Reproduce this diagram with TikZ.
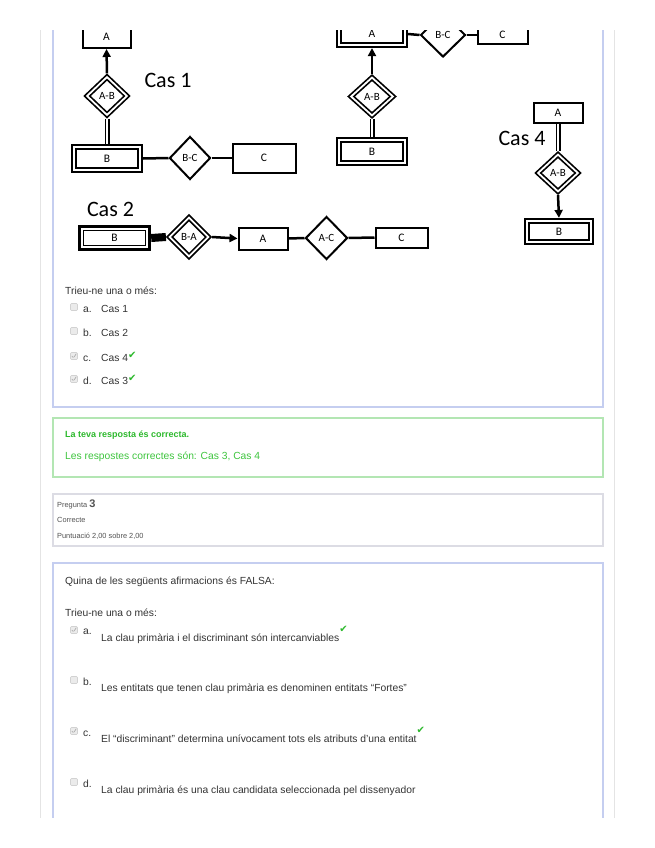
\documentclass[tikz,border=0pt]{standalone}
\usepackage{fontspec}
\setmainfont{Liberation Sans}
\newfontfamily\carl{Carlito}
\newfontfamily\dejavu{DejaVu Sans}
\usetikzlibrary{shapes.geometric,arrows.meta}
\definecolor{pagegray}{HTML}{E4E4E4}
\definecolor{qblue}{HTML}{C5CEF0}
\definecolor{fbgreen}{HTML}{B3E6B3}
\definecolor{okgreen}{HTML}{2DB92D}
\definecolor{okgreen2}{HTML}{3EC53E}
\definecolor{infogray}{HTML}{DCDCE4}
\definecolor{txt}{HTML}{333333}
\definecolor{cbfill}{HTML}{EBEBEB}
\definecolor{cbdraw}{HTML}{D2D2D2}
\newcommand{\chk}{{\dejavu\color{okgreen}\fontsize{10bp}{10bp}\selectfont ✔}}
\begin{document}
\begin{tikzpicture}[x=1bp,y=-1bp,
  ent/.style={draw, rectangle, line width=2bp, inner sep=0pt, font=\carl\fontsize{11.5bp}{13bp}\selectfont},
  wentity/.style={ent, line width=#1, path picture={\draw[line width=1.5bp] ([xshift=3.8bp,yshift=-3.8bp]path picture bounding box.north west) rectangle ([xshift=-3.8bp,yshift=3.8bp]path picture bounding box.south east);}},
  wentity/.default=2.2bp,
  rel/.style={draw, diamond, aspect=1, line width=2bp, inner sep=0pt, font=\carl\fontsize{11bp}{13bp}\selectfont},
  wrel/.style={rel, double, double distance=1.8bp, line width=1.7bp, outer sep=2.6bp},
  conn/.style={line width=2.5bp},
  dconn/.style={double, double distance=1.6bp, line width=1.7bp},
  arr/.style={conn, -{Triangle[length=8bp,width=8bp]}},
  cas/.style={font=\carl\fontsize{22bp}{24bp}\selectfont, inner sep=0pt},
  txtn/.style={anchor=base west, inner sep=0pt, text=txt, font=\fontsize{10.3bp}{12bp}\selectfont},
  small/.style={anchor=base west, inner sep=0pt, text=txt!85, font=\fontsize{7.4bp}{9bp}\selectfont},
  cbox/.style={draw=cbdraw, fill=cbfill, minimum size=7bp, inner sep=0pt, rounded corners=1bp, line width=0.6bp},
  cboxon/.style={cbox, path picture={\draw[black!35, line width=0.6bp] ([xshift=1.3bp]path picture bounding box.west) -- ([xshift=-0.6bp,yshift=1.6bp]path picture bounding box.south) -- ([xshift=-1.2bp,yshift=-1.2bp]path picture bounding box.north east);}}
]
\useasboundingbox (0,0) rectangle (655,848);
\fill[white] (0,0) rectangle (655,848);
\begin{scope}
\clip (0,30) rectangle (655,817);
% page and boxes
\draw[pagegray, line width=1bp] (40,0) -- (40,848);
\draw[pagegray, line width=1bp] (614,0) -- (614,848);
\draw[qblue, line width=1.5bp] (53,0) rectangle (603,407);
\draw[fbgreen, line width=1.5bp] (53,418) rectangle (603,477);
\draw[infogray, line width=1.2bp] (53,494) rectangle (603,546);
\draw[qblue, line width=1.5bp] (53,563) rectangle (603,900);

% ---------- Cas 1
\node[ent, minimum width=48bp, minimum height=22bp] (A1) at (106.5,37) {A};
\node[wrel, minimum width=42bp, minimum height=40bp] (AB1) at (107,96) {A-B};
\node[wentity, minimum width=70bp, minimum height=27bp] (B1) at (107,158.5) {B};
\node[rel, minimum width=41bp, minimum height=43bp] (BC1) at (190,158) {B-C};
\node[ent, minimum width=63bp, minimum height=29bp] (C1) at (264,158) {C};
\node[cas] (cas1) at (168,80) {Cas 1};
\draw[arr] (AB1.north) -- (A1.south);
\draw[dconn] (AB1.south) -- (B1.north);
\draw[conn] (B1.east) -- (BC1.west);
\draw[conn] (BC1.east) -- (C1.west);

% ---------- Cas 2
\node[cas] (cas2) at (110.5,209) {Cas 2};
\node[wentity=3.4bp, minimum width=70bp, minimum height=23bp] (B2) at (114.5,238) {B};
\node[wrel, minimum width=41bp, minimum height=41bp] (BA2) at (189,237) {B-A};
\node[ent, minimum width=49bp, minimum height=22bp] (A2) at (263,238.5) {A};
\node[rel, minimum width=42bp, minimum height=43bp] (AC2) at (326.5,238) {A-C};
\node[ent, minimum width=52bp, minimum height=20bp] (C2) at (401.5,237.5) {C};
\draw[line width=8bp] (B2.east) -- (BA2.west);
\draw[arr] (BA2.east) -- (A2.west);
\draw[conn] (A2.east) -- (AC2.west);
\draw[conn] (AC2.east) -- (C2.west);

% ---------- Cas 3
\node[wentity, minimum width=70bp, minimum height=26bp] (A3) at (372,34) {A};
\node[rel, minimum width=45bp, minimum height=44bp] (BC3) at (443,35) {B-C};
\node[ent, minimum width=50bp, minimum height=18bp] (C3) at (502.5,35) {C};
\node[wrel, minimum width=44bp, minimum height=40bp] (AB3) at (372,96.5) {A-B};
\node[wentity, minimum width=70bp, minimum height=27bp] (B3) at (372,151.5) {B};
\draw[conn] (A3.east) -- (BC3.west);
\draw[conn] (BC3.east) -- (C3.west);
\draw[arr] (AB3.north) -- (A3.south);
\draw[dconn] (AB3.south) -- (B3.north);

% ---------- Cas 4
\node[ent, minimum width=49bp, minimum height=20bp] (A4) at (558,112.5) {A};
\node[cas] (cas4) at (522,138) {Cas 4};
\node[wrel, minimum width=42bp, minimum height=39bp] (AB4) at (558,173) {A-B};
\node[wentity, minimum width=68bp, minimum height=25bp] (B4) at (559,231.5) {B};
\draw[dconn] (A4.south) -- (AB4.north);
\draw[arr] (AB4.south) -- (B4.north);

% ---------- Question 1 answers
\node[txtn] (tr1) at (65,294) {Trieu-ne una o més:};
\node[cbox] (cbA) at (74,307) {};
\node[txtn] (laA) at (83,312) {a.};
\node[txtn] (opA) at (101,312) {Cas 1};
\node[cbox] (cbB) at (74,331) {};
\node[txtn] (laB) at (83,336) {b.};
\node[txtn] (opB) at (101,336) {Cas 2};
\node[cboxon] (cbC) at (74,356) {};
\node[txtn] (laC) at (83,361) {c.};
\node[txtn] (opC) at (101,361) {Cas 4\raisebox{3bp}{\chk}};
\node[cboxon] (cbD) at (74,379) {};
\node[txtn] (laD) at (83,384) {d.};
\node[txtn] (opD) at (101,384) {Cas 3\raisebox{3bp}{\chk}};

% ---------- feedback
\node[txtn, text=okgreen, font=\bfseries\fontsize{9bp}{11bp}\selectfont] (fb1) at (65,437.5) {La teva resposta és correcta.};
\node[txtn, text=okgreen2] (fb2) at (65,459) {Les respostes correctes són: Cas 3, Cas 4};

% ---------- info
\node[small] (preg) at (57,507.5) {Pregunta {\bfseries\fontsize{11bp}{12bp}\selectfont 3}};
\node[small] (corr) at (57,522.7) {Correcte};
\node[small] (punt) at (57,538.7) {Puntuació 2,00 sobre 2,00};

% ---------- Question 3
\node[txtn] (q3) at (65,584) {Quina de les següents afirmacions és FALSA:};
\node[txtn] (tr3) at (65,616) {Trieu-ne una o més:};
\node[cboxon] (cb3a) at (74,630) {};
\node[txtn] (la3a) at (83,634) {a.};
\node[txtn] (op3a) at (101,641) {La clau primària i el discriminant són intercanviables\raisebox{9bp}{\chk}};
\node[cbox] (cb3b) at (74,680) {};
\node[txtn] (la3b) at (83,685) {b.};
\node[txtn] (op3b) at (101,691) {Les entitats que tenen clau primària es denominen entitats “Fortes”};
\node[cboxon] (cb3c) at (74,731) {};
\node[txtn] (la3c) at (83,736) {c.};
\node[txtn] (op3c) at (101,742) {El “discriminant” determina unívocament tots els atributs d’una entitat\raisebox{9bp}{\chk}};
\node[cbox] (cb3d) at (74,782) {};
\node[txtn] (la3d) at (83,787) {d.};
\node[txtn] (op3d) at (101,793) {La clau primària és una clau candidata seleccionada pel dissenyador};
\end{scope}
\end{tikzpicture}
\end{document}
